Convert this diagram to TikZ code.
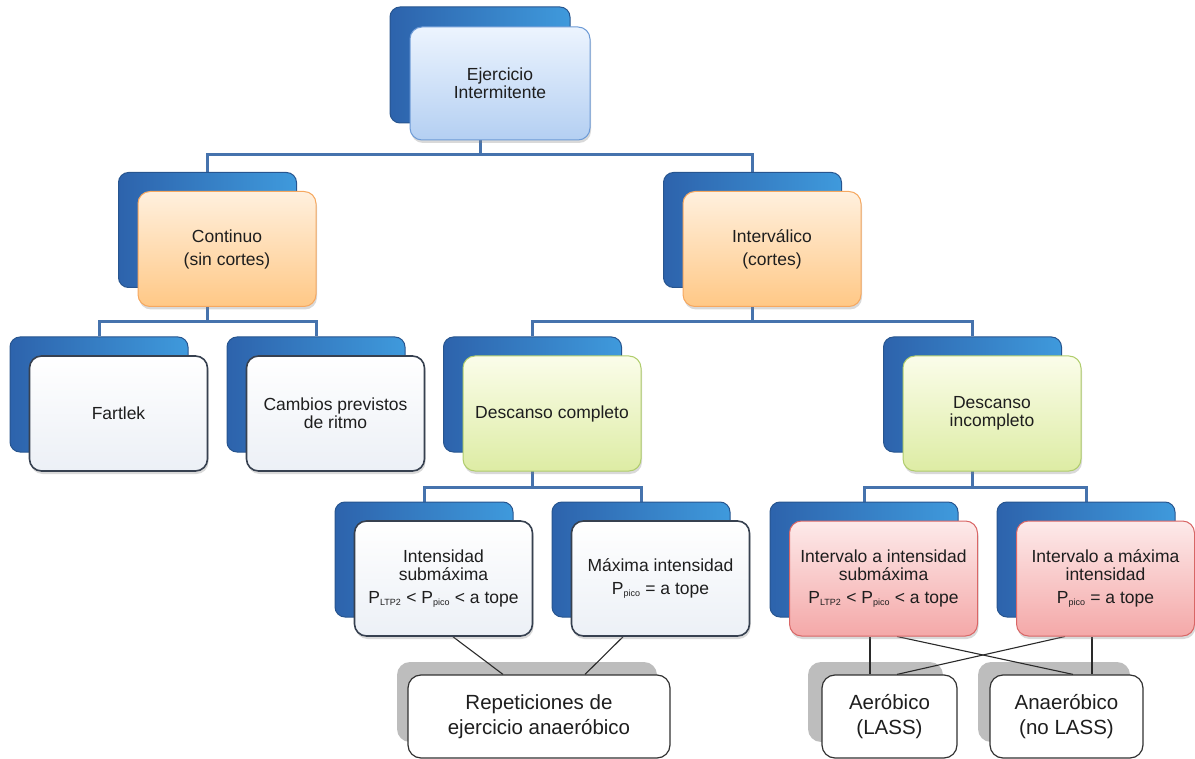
\documentclass[tikz,border=0pt]{standalone}
\usepackage{fontspec}
\setmainfont{Liberation Sans}
\usetikzlibrary{shadows,backgrounds}
\definecolor{bbA}{HTML}{4A88D6}
\definecolor{bbB}{HTML}{2D63AC}
\definecolor{bbD}{HTML}{27558F}
\definecolor{txt}{HTML}{1E1E1E}
\definecolor{conncol}{HTML}{4673AD}
\definecolor{linkcol}{HTML}{2A2A2A}
\newcommand\sbs[1]{\textsubscript{\fontsize{9}{9}\selectfont #1}}
\newcommand\mkpair[6]{%
  \node[backbox, minimum width=#4] (#1-b) at (#2,#3) {};
  \node[frontbox, #5, minimum width=#4] (#1-f) at (#2+19.5,#3+19) {#6};}
\begin{document}
\begin{tikzpicture}[x=1pt,y=-1pt,
  backbox/.style={draw=bbD, line width=1pt, rounded corners=10pt, left color=bbB, right color=bbA!85!cyan, minimum height=115pt, inner sep=0pt},
  frontbox/.style={line width=1pt, rounded corners=12pt, minimum height=115pt, inner sep=2pt, align=center, text=txt, font=\fontsize{17.5}{18}\selectfont, drop shadow={shadow xshift=1pt, shadow yshift=-3pt, opacity=0.3}},
  fblue/.style={draw={rgb,255:red,110;green,155;blue,214}, top color={rgb,255:red,236;green,244;blue,254}, bottom color={rgb,255:red,180;green,207;blue,242}},
  forange/.style={draw={rgb,255:red,246;green,168;blue,96}, top color={rgb,255:red,255;green,240;blue,222}, bottom color={rgb,255:red,255;green,200;blue,134}},
  fgreen/.style={draw={rgb,255:red,176;green,205;blue,108}, top color={rgb,255:red,251;green,253;blue,234}, bottom color={rgb,255:red,221;green,236;blue,164}},
  fred/.style={draw={rgb,255:red,217;green,102;blue,102}, top color={rgb,255:red,253;green,234;blue,234}, bottom color={rgb,255:red,244;green,168;blue,168}},
  fwhite/.style={draw={rgb,255:red,55;green,65;blue,80}, line width=1.6pt, top color=white, bottom color={rgb,255:red,236;green,240;blue,246}},
  conn/.style={draw=conncol, line width=3pt},
  link/.style={draw=linkcol, line width=1.1pt},
  shadowbox/.style={fill=black!26, rounded corners=13pt, minimum height=80pt, inner sep=0pt},
  bottombox/.style={draw={rgb,255:red,50;green,50;blue,50}, line width=1.2pt, fill=white, rounded corners=13pt, minimum height=83pt, inner sep=0pt, align=center, text=txt, font=\fontsize{20.5}{25}\selectfont}
]
\useasboundingbox (0,0) rectangle (1195,759);

% level 0
\node[backbox, minimum width=180pt, minimum height=116pt] (top-b) at (480,65) {};
\node[frontbox, fblue, minimum width=180pt, minimum height=113pt] (top-f) at (500,83.5) {Ejercicio\\Intermitente};
% level 1
\mkpair{cont}{207.5}{230}{178pt}{forange}{Continuo\\[5pt](sin cortes)}
\mkpair{intv}{752.5}{230}{178pt}{forange}{Interválico\\[5pt](cortes)}
% level 2
\mkpair{fart}{99}{394.5}{178pt}{fwhite}{Fartlek}
\mkpair{camb}{316}{394.5}{178pt}{fwhite}{Cambios previstos\\de ritmo}
\mkpair{dc}{532.5}{394.5}{178pt}{fgreen}{Descanso completo}
\mkpair{di}{972.5}{394.5}{178pt}{fgreen}{Descanso\\incompleto}
% level 3
\mkpair{is}{424}{559.5}{178pt}{fwhite}{Intensidad\\submáxima\\[5pt]P\sbs{LTP2} < P\sbs{pico} < a tope}
\mkpair{mi}{641}{559.5}{178pt}{fwhite}{Máxima intensidad\\[5pt]P\sbs{pico} = a tope}
\mkpair{ia}{864}{559.5}{188pt}{fred}{Intervalo a intensidad\\submáxima\\[5pt]P\sbs{LTP2} < P\sbs{pico} < a tope}
\mkpair{im}{1086}{559.5}{178pt}{fred}{Intervalo a máxima\\intensidad\\[5pt]P\sbs{pico} = a tope}

% bottom boxes
\node[bottombox, minimum width=262pt] (rep) at (539,716.5) {Repeticiones de\\ejercicio anaeróbico};
\node[bottombox, minimum width=135pt] (aer) at (889.5,716.5) {Aeróbico\\(LASS)};
\node[bottombox, minimum width=153pt] (ana) at (1066.5,716.5) {Anaeróbico\\(no LASS)};

\coordinate (bar0) at (0,155);
\coordinate (bar1) at (0,322);
\coordinate (bar2) at (0,487);
\coordinate (ia-l) at ([xshift=-13.5pt]ia-f.south);
\coordinate (im-l) at ([xshift=-13.5pt]im-f.south);

\begin{scope}[on background layer]
  \node[shadowbox, minimum width=260pt] (rep-s) at (527,702) {};
  \node[shadowbox, minimum width=135pt] (aer-s) at (875.5,702) {};
  \node[shadowbox, minimum width=152pt] (ana-s) at (1054,702) {};
  % tree connectors
  \draw[conn] (top-b.south) -- (top-b.south |- bar0) -| (cont-b.north);
  \draw[conn] (top-b.south |- bar0) -| (intv-b.north);
  \draw[conn] (cont-b.south) -- (cont-b.south |- bar1) -| (fart-b.north);
  \draw[conn] (cont-b.south |- bar1) -| (camb-b.north);
  \draw[conn] (intv-b.south) -- (intv-b.south |- bar1) -| (dc-b.north);
  \draw[conn] (intv-b.south |- bar1) -| (di-b.north);
  \draw[conn] (dc-b.south) -- (dc-b.south |- bar2) -| (is-b.north);
  \draw[conn] (dc-b.south |- bar2) -| (mi-b.north);
  \draw[conn] (di-b.south) -- (di-b.south |- bar2) -| (ia-b.north);
  \draw[conn] (di-b.south |- bar2) -| (im-b.north);
  % links to bottom boxes
  \draw[link] ([xshift=9.5pt]is-f.south) -- ([xshift=-36pt]rep.north);
  \draw[link] ([xshift=-37.5pt]mi-f.south) -- ([xshift=46pt]rep.north);
  \draw[link] (ia-l) -- (ia-l |- aer.north);
  \draw[link] ([xshift=13.5pt]ia-f.south) -- ([xshift=6.5pt]ana.north);
  \draw[link] ([xshift=-40.5pt]im-f.south) -- ([xshift=7.5pt]aer.north);
  \draw[link] (im-l) -- (im-l |- ana.north);
\end{scope}
\end{tikzpicture}
\end{document}
